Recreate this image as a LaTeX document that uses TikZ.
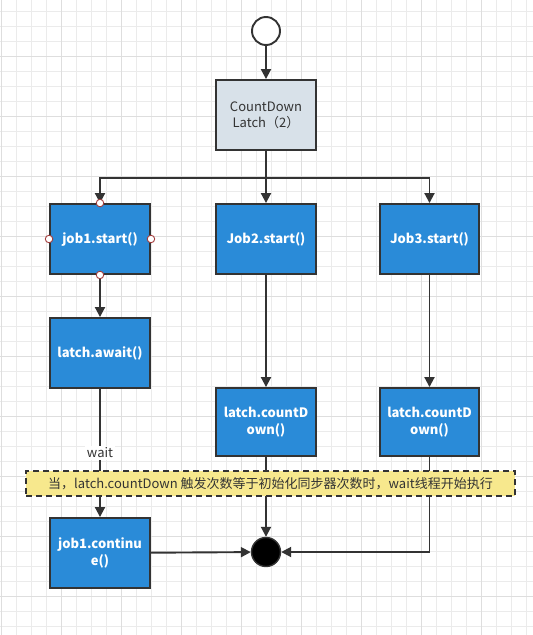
\documentclass[tikz,border=0pt]{standalone}
\usepackage{fontspec}
\setmainfont{Noto Sans CJK SC}
\usepackage{xcolor}
\usetikzlibrary{arrows.meta}
\definecolor{gridline}{HTML}{EBEBEB}
\definecolor{gridmajor}{HTML}{DEDEDE}
\definecolor{jobblue}{HTML}{2A8BD8}
\definecolor{latchgrey}{HTML}{D8E1E9}
\definecolor{notefill}{HTML}{F7E88D}
\definecolor{edgeline}{HTML}{333333}
\definecolor{handle}{HTML}{A23B3B}

\begin{document}
\begin{tikzpicture}[x=1pt, y=-1pt, >={Triangle[length=10pt,width=10pt]},
    every node/.style={font=\fontsize{13}{16}\selectfont, text=edgeline},
    flow/.style={draw=edgeline, line width=1.9pt},
    jobbox/.style={rectangle, draw=edgeline, line width=1.9pt, fill=jobblue,
      minimum width=100pt, minimum height=70pt, align=center,
      text=white, font=\fontsize{13}{17}\selectfont\bfseries},
    pin/.style={circle, draw=handle, fill=white, line width=0.9pt,
      inner sep=0pt, minimum size=7.5pt}]
				% canvas
				\useasboundingbox (0,0) rectangle (533,635);
				\fill[white] (0,0) rectangle (533,635);
				% grid
				\foreach \gx in {1,16,...,533} \draw[gridline, line width=0.8pt] (\gx,0) -- (\gx,635);
				\foreach \gy in {11,26,...,635} \draw[gridline, line width=0.8pt] (0,\gy) -- (533,\gy);
				\foreach \gx in {1,61,...,533} \draw[gridmajor, line width=0.9pt] (\gx,0) -- (\gx,635);
				\foreach \gy in {56,116,...,635} \draw[gridmajor, line width=0.9pt] (0,\gy) -- (533,\gy);
				% start and latch
				\node[circle, draw=edgeline, fill=white, line width=1.9pt, minimum size=28pt, inner sep=0pt] (init) at (266,31) {};
				\node[rectangle, draw=edgeline, line width=1.9pt, fill=latchgrey, minimum width=100pt, minimum height=70pt, align=center] (latch) at (266,115) {CountDown\\Latch（2）};
				% jobs
				\node[jobbox] (job1) at (100,239) {job1.start()};
				\node[jobbox] (job2) at (266,239) {Job2.start()};
				\node[jobbox, minimum width=99pt] (job3) at (429.5,239) {Job3.start()};
				\node[jobbox] (await) at (100,353) {latch.await()};
				\node[jobbox, minimum height=68pt] (down2) at (266,422) {latch.countD\\own()};
				\node[jobbox, minimum width=99pt, minimum height=68pt] (down3) at (429.5,422) {latch.countD\\own()};
				\node[jobbox] (resume) at (100,553) {job1.continu\\e()};
				\node[circle, draw=edgeline, fill=black, line width=1.4pt, minimum size=29pt, inner sep=0pt] (final) at (266,552) {};
				% fork
				\coordinate (fork) at (266,178);
				\draw[flow, ->] (init) -- (latch);
				\draw[flow] (latch) -- (fork);
				\draw[flow, ->] (fork) -| (job1);
				\draw[flow, ->] (fork) -- (job2);
				\draw[flow, ->] (fork) -| (job3);
				% columns
				\draw[flow, ->] (job1) -- (await);
				\draw[flow, ->] (await) -- (resume) node[pos=0.5, fill=white, inner sep=1.5pt] (waitlbl) {wait};
				\draw[flow, ->] (job2) -- (down2);
				\draw[flow, ->] (job3) -- (down3);
				\draw[flow, ->] (down2) -- (final);
				\draw[flow, ->] (down3) |- (final);
				\draw[flow, ->] (resume) -- (final);
				% selection handles
				\foreach \side in {north,south,east,west} \node[pin] at (job1.\side) {};
				% note
				\node[rectangle, draw=edgeline, dash pattern=on 6pt off 4pt, line width=1.9pt, fill=notefill, minimum width=489pt, minimum height=25pt] (note) at (270.5,483.5) {当，latch.countDown 触发次数等于初始化同步器次数时，wait线程开始执行};
			\end{tikzpicture}
\end{document}
